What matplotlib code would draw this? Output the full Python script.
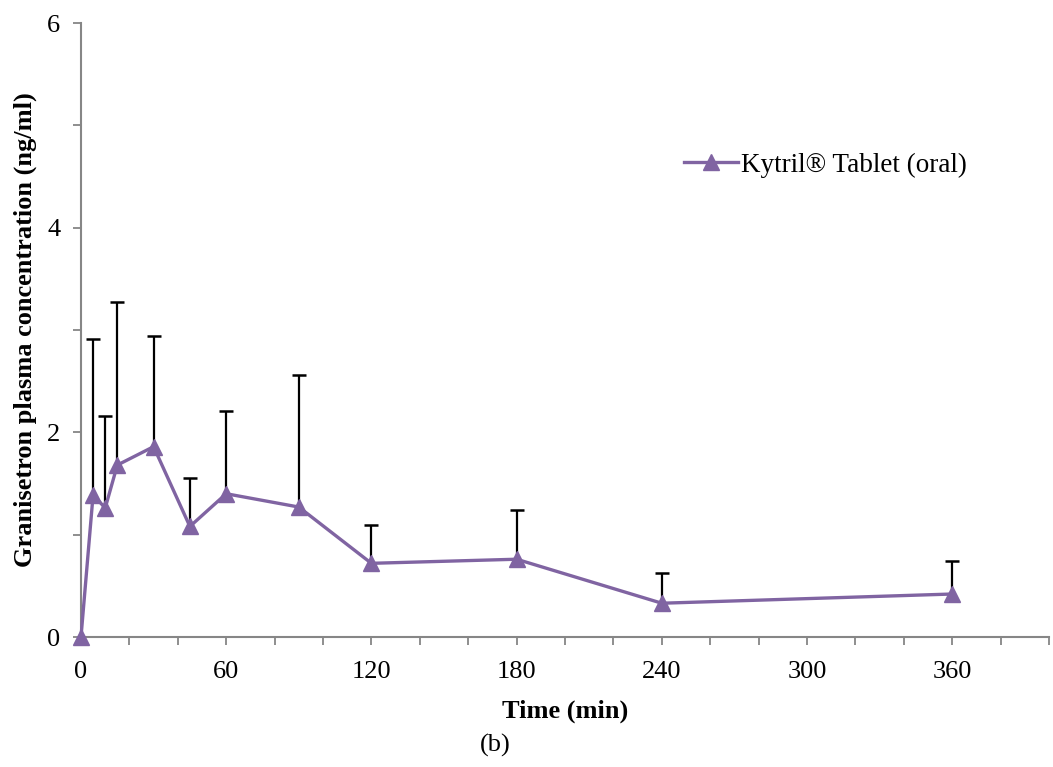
import matplotlib
matplotlib.use("Agg")
import matplotlib.pyplot as plt
from matplotlib.ticker import MultipleLocator

plt.rcParams['font.family'] = ['Liberation Serif', 'DejaVu Serif']

time_min = [0, 5, 10, 15, 30, 45, 60, 90, 120, 180, 240, 360]
conc = [0, 1.39, 1.26, 1.68, 1.86, 1.08, 1.40, 1.27, 0.72, 0.76, 0.33, 0.42]
sd = [0, 1.52, 0.90, 1.59, 1.08, 0.47, 0.81, 1.29, 0.37, 0.48, 0.30, 0.32]
series_label = "Kytril® Tablet (oral)"
x_ticks = [0, 60, 120, 180, 240, 300, 360]
y_ticks = [0, 2, 4, 6]

purple = '#8064A2'
axis_grey = '#868686'

fig = plt.figure(figsize=(10.53, 7.67), dpi=100)
ax = fig.add_axes([81/1053, 1-637/767, (1049-81)/1053, (637-23)/767])

upper = [c + s for c, s in zip(conc, sd)]
ax.vlines(time_min[1:], conc[1:], upper[1:], colors='black', lw=1.6, zorder=2)
ax.plot(time_min[1:], upper[1:], linestyle='none', marker='_', markersize=10.5,
        markeredgewidth=1.8, color='black', zorder=2)
ax.plot(time_min, conc, color=purple, lw=2.4, marker='^', markersize=11.5,
        markeredgecolor=purple, markerfacecolor=purple, label=series_label,
        zorder=3, clip_on=False)

ax.set_xlim(0, 400)
ax.set_ylim(0, 6)
ax.set_xticks(x_ticks)
ax.set_yticks(y_ticks)
ax.xaxis.set_minor_locator(MultipleLocator(20))
ax.yaxis.set_minor_locator(MultipleLocator(1))

for s in ['top', 'right']:
    ax.spines[s].set_visible(False)
for s in ['left', 'bottom']:
    ax.spines[s].set_color(axis_grey)
    ax.spines[s].set_linewidth(1.5)

ax.tick_params(axis='both', which='both', direction='out', color=axis_grey,
               width=1.3, length=6)
ax.tick_params(axis='x', which='major', pad=11, labelsize=19)
ax.tick_params(axis='y', which='major', pad=9, labelsize=19)

ax.set_xlabel('Time (min)', fontsize=19, fontweight='bold', labelpad=12)
ax.set_ylabel('Granisetron plasma concentration (ng/ml)', fontsize=19,
              fontweight='bold', labelpad=7)

ax.legend(loc='center left', bbox_to_anchor=(684/1053, 1-165/767),
          bbox_transform=fig.transFigure, frameon=False, fontsize=19.5,
          handlelength=2.0, handletextpad=0.1, borderpad=0, borderaxespad=0)

fig.text(495/1053, 1-745/767, '(b)', fontsize=19, ha='center', va='center')

fig.savefig('out.png', dpi=100)
